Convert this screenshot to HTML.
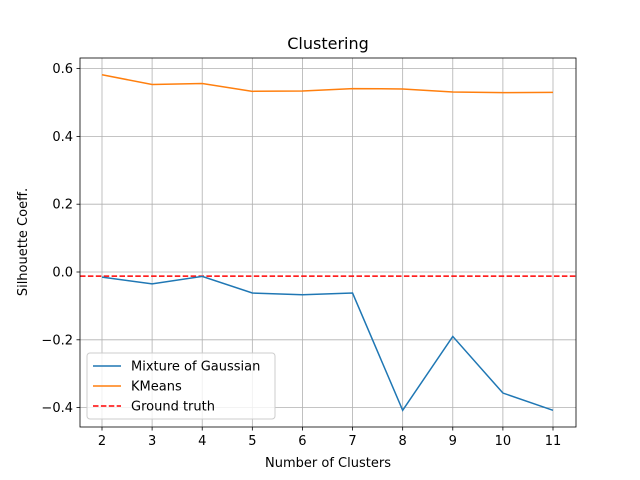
<!DOCTYPE html>
<html><head><meta charset="utf-8"><style>body{margin:0;background:#fff}svg{display:block;font-family:"DejaVu Sans","Liberation Sans",sans-serif}</style></head>
<body>
<svg id="c" width="640" height="480"></svg>
<script>
const categories=[2,3,4,5,6,7,8,9,10,11];
const mogValues=[-0.015,-0.035,-0.013,-0.062,-0.067,-0.062,-0.408,-0.19,-0.357,-0.408];
const kmeansValues=[0.582,0.553,0.556,0.533,0.534,0.541,0.540,0.531,0.529,0.530];
const groundTruth=-0.012;
const yTicks=[-0.4,-0.2,0.0,0.2,0.4,0.6];
const yTickLabels=["\u22120.4","\u22120.2","0.0","0.2","0.4","0.6"];
const L=80,R=576,T=58,B=427;
const xs=v=>102+(v-2)*(553-102)/9;
const ys=v=>272-v*339;
const svg=document.getElementById('c');
const NS='http://www.w3.org/2000/svg';
function mk(tag,attrs,name,txt){const e=document.createElementNS(NS,tag);for(const k in attrs)e.setAttribute(k,attrs[k]);


if(txt!==undefined)e.textContent=txt;svg.appendChild(e);return e;}
categories.forEach(c=>{const x=xs(c);
mk('line',{x1:x,x2:x,y1:T,y2:B,stroke:'#b0b0b0','stroke-width':0.8},'x-grid-line');
mk('line',{x1:x,x2:x,y1:B,y2:B+3.5,stroke:'#000','stroke-width':0.8},'x-tick');
mk('text',{x:x,y:B+18,'text-anchor':'middle','font-size':13},'x-tick-label',String(c));});
yTicks.forEach((v,i)=>{const y=ys(v);
mk('line',{x1:L,x2:R,y1:y,y2:y,stroke:'#b0b0b0','stroke-width':0.8},'y-grid-line');
mk('line',{x1:L-3.5,x2:L,y1:y,y2:y,stroke:'#000','stroke-width':0.8},'y-tick');
mk('text',{x:L-7,y:y+4.5,'text-anchor':'end','font-size':13},'y-tick-label',yTickLabels[i]);});
const pts=a=>a.map((v,i)=>xs(categories[i])+','+ys(v)).join(' ');
mk('line',{x1:L,x2:R,y1:ys(groundTruth),y2:ys(groundTruth),stroke:'#ff0000','stroke-width':1.5,'stroke-dasharray':'5.5,2.4'},'ground-truth-line');
mk('polyline',{points:pts(mogValues),fill:'none',stroke:'#1f77b4','stroke-width':1.5},'mixture-of-gaussian-line');
mk('polyline',{points:pts(kmeansValues),fill:'none',stroke:'#ff7f0e','stroke-width':1.5},'kmeans-line');
mk('rect',{x:L,y:T,width:R-L,height:B-T,fill:'none',stroke:'#000','stroke-width':0.8},'plot-frame');
mk('text',{x:328,y:49,'text-anchor':'middle','font-size':16},'chart-title','Clustering');
mk('text',{x:328,y:467,'text-anchor':'middle','font-size':13},'x-axis-title','Number of Clusters');
mk('text',{x:27,y:242,'text-anchor':'middle','font-size':13,transform:'rotate(-90 27 242)'},'y-axis-title','Silhouette Coeff.');
mk('rect',{x:87,y:353,width:188,height:66,rx:3,fill:'#fff','fill-opacity':0.8,stroke:'#ccc'},'legend-box');
[['#1f77b4','Mixture of Gaussian',''],['#ff7f0e','KMeans',''],['#ff0000','Ground truth','5.5,2.4']].forEach((l,i)=>{const y=366+i*20;
mk('line',{x1:93,x2:121,y1:y,y2:y,stroke:l[0],'stroke-width':1.5,'stroke-dasharray':l[2]||'none'},'legend-swatch');
mk('text',{x:131,y:y+4.5,'font-size':13},'legend-entry',l[1]);});
</script>
</body></html>
